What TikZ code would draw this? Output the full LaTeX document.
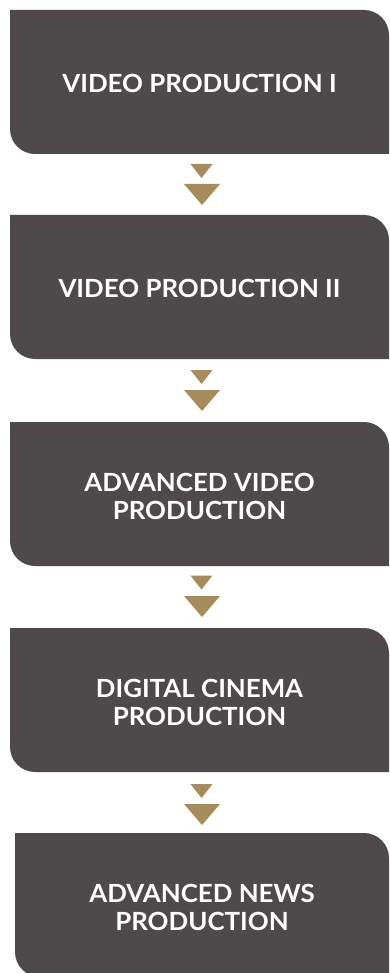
\documentclass[tikz,border=0pt]{standalone}
\usepackage{fontspec}
\setmainfont[FakeStretch=1.035]{Lato}
\definecolor{boxgray}{HTML}{4E4A4B}
\definecolor{gold}{HTML}{A68B5C}
\begin{document}
\begin{tikzpicture}[x=1pt,y=1pt,
  boxfill/.style={fill=boxgray},
  label/.style={text=white,font=\fontsize{25}{28}\selectfont\bfseries,align=center,inner sep=0pt},
  tri/.style={fill=gold}]
\useasboundingbox (0,0) rectangle (389,-973);
\clip (0,0) rectangle (389,-973);
% boxes: top-left x, top y, bottom y
\newcommand{\mybox}[4]{%
  \fill[boxfill] (#1,-#2) -- (364,-#2) arc[start angle=90,end angle=0,radius=25] -- (389,-#3) -- (#1+25,-#3) arc[start angle=270,end angle=180,radius=25] -- cycle;
  \coordinate (#4) at ({(#1+389)/2},{-(#2+#3)/2});}
\newcommand{\arrows}[2]{% small top y, big top y
  \fill[tri] (190.5,-#1) -- (212.5,-#1) -- (201.5,-#1-14) -- cycle;
  \fill[tri] (184,-#2) -- (220,-#2) -- (202,-#2-21) -- cycle;}
\mybox{10}{10}{154}{c1}
\mybox{10}{215}{359}{c2}
\mybox{10}{422}{566}{c3}
\mybox{10}{628}{772}{c4}
\mybox{15}{833}{977}{c5}
\node[label] (b1) at ([yshift=-1.5pt]c1) {VIDEO PRODUCTION I};
\node[label] (b2) at ([yshift=-1.5pt]c2) {VIDEO PRODUCTION II};
\node[label] (b3) at ([yshift=-2pt]c3) {ADVANCED VIDEO\\PRODUCTION};
\node[label] (b4) at ([yshift=-2pt]c4) {DIGITAL CINEMA\\PRODUCTION};
\node[label] (b5) at ([yshift=-2pt]c5) {ADVANCED NEWS\\PRODUCTION};
\arrows{164}{184}
\arrows{370}{390}
\arrows{575.5}{596}
\arrows{784}{804}
\end{tikzpicture}
\end{document}
